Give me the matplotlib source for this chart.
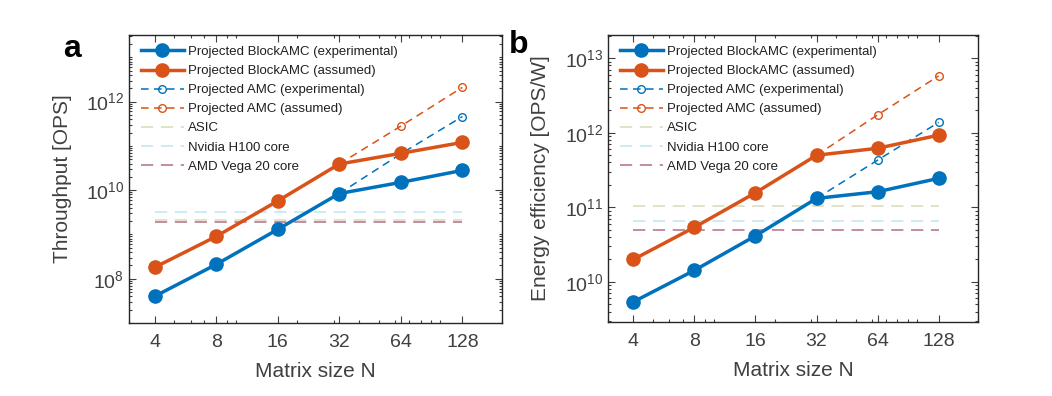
import numpy as np
import matplotlib
matplotlib.use("Agg")
import matplotlib.pyplot as plt
from matplotlib.ticker import FixedLocator, LogLocator, NullFormatter

plt.rcParams["font.family"] = ["Liberation Sans", "DejaVu Sans"]
plt.rcParams["mathtext.fontset"] = "custom"
plt.rcParams["mathtext.rm"] = "Liberation Sans"
plt.rcParams["mathtext.default"] = "regular"

# data
N = [4, 8, 16, 32, 64, 128]
N_amc = [32, 64, 128]

tp_block_exp = [4.0e7, 2.1e8, 1.3e9, 8.4e9, 1.5e10, 2.8e10]
tp_block_ass = [1.8e8, 9.0e8, 5.7e9, 3.9e10, 6.8e10, 1.2e11]
tp_amc_exp = [8.4e9, 6.6e10, 4.6e11]
tp_amc_ass = [3.9e10, 2.8e11, 2.1e12]
tp_asic = 2.1e9
tp_h100 = 3.2e9
tp_amd = 1.95e9

ee_block_exp = [5.4e9, 1.43e10, 4.15e10, 1.32e11, 1.62e11, 2.45e11]
ee_block_ass = [2.0e10, 5.4e10, 1.57e11, 5.0e11, 6.2e11, 9.3e11]
ee_amc_exp = [1.32e11, 4.3e11, 1.38e12]
ee_amc_ass = [5.0e11, 1.74e12, 5.8e12]
ee_asic = 1.04e11
ee_h100 = 6.6e10
ee_amd = 5.0e10

blue = "#0072BD"
orange = "#D95319"
c_asic = (0.62, 0.64, 0.30)
c_h100 = (0.45, 0.78, 0.88)
c_amd = (0.55, 0.12, 0.30)
gray = "#404040"

fig = plt.figure(figsize=(10.52, 3.96), dpi=100)
ax1 = fig.add_axes([129 / 1052, 1 - 323 / 396, 373 / 1052, 288 / 396])
ax2 = fig.add_axes([608 / 1052, 1 - 322 / 396, 370 / 1052, 287 / 396])


def draw(ax, blk_exp, blk_ass, amc_exp, amc_ass, asic, h100, amd):
    ax.plot(N, blk_exp, "-o", color=blue, lw=2.5, ms=9.5, label="Projected BlockAMC (experimental)", zorder=5)
    ax.plot(N, blk_ass, "-o", color=orange, lw=2.5, ms=9.5, label="Projected BlockAMC (assumed)", zorder=5)
    ax.plot(N_amc, amc_exp, "--o", color=blue, lw=1.1, ms=5.5, mfc="none", mew=1.0,
            dashes=(5, 3.5), label="Projected AMC (experimental)", zorder=4)
    ax.plot(N_amc, amc_ass, "--o", color=orange, lw=1.1, ms=5.5, mfc="none", mew=1.0,
            dashes=(5, 3.5), label="Projected AMC (assumed)", zorder=4)
    ax.plot([N[0], N[-1]], [asic, asic], color=c_asic, alpha=0.4, lw=1.1, dashes=(8, 5),
            label="ASIC", zorder=3)
    ax.plot([N[0], N[-1]], [h100, h100], color=c_h100, alpha=0.45, lw=1.1, dashes=(8, 5),
            label="Nvidia H100 core", zorder=3)
    ax.plot([N[0], N[-1]], [amd, amd], color=c_amd, alpha=0.65, lw=1.1, dashes=(8, 5),
            label="AMD Vega 20 core", zorder=2)

    ax.set_xscale("log")
    ax.set_yscale("log")
    ax.set_xlim(3.0, 200)
    ax.xaxis.set_major_locator(FixedLocator(N))
    ax.set_xticklabels([str(n) for n in N])
    ax.xaxis.set_minor_locator(LogLocator(base=10, subs=np.arange(1, 10), numticks=50))
    ax.xaxis.set_minor_formatter(NullFormatter())
    ax.yaxis.set_minor_locator(LogLocator(base=10, subs=np.arange(1, 10), numticks=50))
    ax.yaxis.set_minor_formatter(NullFormatter())

    ax.tick_params(which="both", direction="in", top=True, right=True, colors=gray,
                   labelsize=14, width=0.8)
    ax.tick_params(which="major", length=5)
    ax.tick_params(axis="x", which="major", pad=8)
    ax.tick_params(which="minor", length=2.5)
    for s in ax.spines.values():
        s.set_color("#262626")
        s.set_linewidth(1.0)
    ax.set_xlabel("Matrix size N", fontsize=15, color=gray)
    ax.xaxis.set_label_coords(0.5, -0.135)
    ax.legend(loc="upper left", frameon=False, fontsize=9.5, handlelength=3.3,
              labelspacing=0.52, borderaxespad=0.2, handletextpad=0.3,
              bbox_to_anchor=(0.01, 0.99), labelcolor="#202020")


draw(ax1, tp_block_exp, tp_block_ass, tp_amc_exp, tp_amc_ass, tp_asic, tp_h100, tp_amd)
ax1.set_ylim(1e7, 3.2e13)
ax1.yaxis.set_major_locator(FixedLocator([1e8, 1e10, 1e12]))
ax1.set_yticklabels(["$10^{8}$", "$10^{10}$", "$10^{12}$"])
ax1.set_ylabel("Throughput [OPS]", fontsize=15, color=gray)
ax1.yaxis.set_label_coords(-0.153, 0.5)

draw(ax2, ee_block_exp, ee_block_ass, ee_amc_exp, ee_amc_ass, ee_asic, ee_h100, ee_amd)
ax2.set_ylim(2.9e9, 2.05e13)
ax2.yaxis.set_major_locator(FixedLocator([1e10, 1e11, 1e12, 1e13]))
ax2.set_yticklabels(["$10^{10}$", "$10^{11}$", "$10^{12}$", "$10^{13}$"])
ax2.set_ylabel("Energy efficiency [OPS/W]", fontsize=15, color=gray)
ax2.yaxis.set_label_coords(-0.157, 0.5)

fig.text(0.06, 0.856, "a", fontsize=23, fontweight="bold")
fig.text(0.484, 0.866, "b", fontsize=23, fontweight="bold")

fig.savefig("out.png", dpi=100)
